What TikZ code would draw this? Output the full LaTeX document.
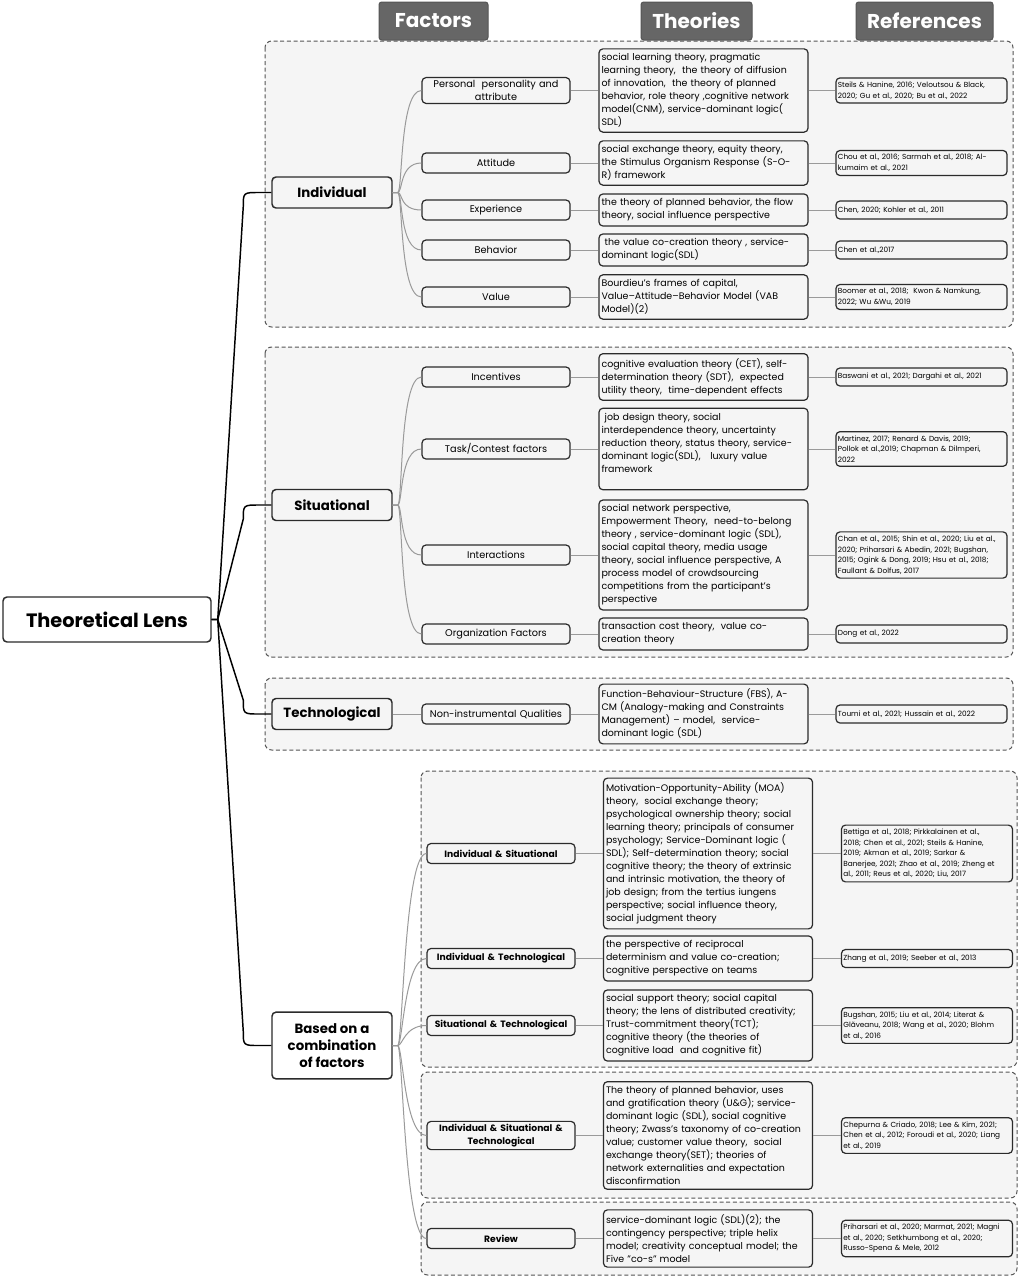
\documentclass[tikz,border=0pt]{standalone}
\usepackage{fontspec}
\setmainfont{Poppins}
\usetikzlibrary{calc}

\definecolor{grpfill}{HTML}{F5F5F5}
\definecolor{grpline}{HTML}{555555}
\definecolor{boxline}{HTML}{2B2B2B}
\definecolor{hdrfill}{HTML}{666666}
\definecolor{hdrline}{HTML}{555555}
\definecolor{branchline}{HTML}{9A9A9A}

\tikzset{every picture/.style={line width=0.75pt}}
\tikzset{
  hdrbox/.style={draw=hdrline, fill=hdrfill, rounded corners=2pt, text=white, minimum height=28.5pt, inner sep=0pt, font=\fontsize{15pt}{18pt}\bfseries\selectfont},
  rootbox/.style={draw=boxline, fill=white, line width=1.1pt, rounded corners=3pt, minimum width=156pt, minimum height=33.75pt, font=\fontsize{14.5pt}{17pt}\bfseries\selectfont},
  lvlbox/.style={draw=boxline, fill=grpfill, line width=1.1pt, rounded corners=3pt, minimum width=90pt, minimum height=23.25pt, align=center, font=\fontsize{10pt}{12.75pt}\bfseries\selectfont},
  facbox/.style={draw=boxline, fill=grpfill, line width=0.9pt, rounded corners=3pt, text width=107pt, inner xsep=2pt, inner ysep=2pt, minimum height=15pt, align=center, font=\fontsize{7.3pt}{9.75pt}\selectfont},
  facbold/.style={facbox, font=\fontsize{6.9pt}{9.75pt}\bfseries\selectfont},
  thbox/.style={draw=boxline, fill=grpfill, line width=0.9pt, rounded corners=3pt, text width=153pt, inner xsep=1.9pt, inner ysep=3.5pt, align=left, font=\fontsize{7.1pt}{9.75pt}\selectfont, execute at begin node={\hyphenpenalty=10000}},
  refbox/.style={draw=boxline, fill=grpfill, line width=0.9pt, rounded corners=3pt, text width=125.5pt, inner xsep=1.4pt, inner ysep=3pt, minimum height=13.5pt, align=left, font=\fontsize{5.5pt}{7.9pt}\selectfont, execute at begin node={\hyphenpenalty=10000}},
  grpbox/.style={draw=grpline, fill=grpfill, dash pattern=on 3pt off 2pt, rounded corners=5pt, line width=0.75pt},
  branch/.style={draw=branchline, line width=0.75pt},
  trunk/.style={draw=black, line width=1.1pt},
}

\begin{document}
\begin{tikzpicture}[x=0.75pt,y=0.75pt,yscale=-1,xscale=1]
	\useasboundingbox (0,0) rectangle (1021,1278);
	\fill[white] (0,0) rectangle (1021,1278);

	%Shape: group boxes
	\draw[grpbox] (265,41) rectangle (1013,327);
	\draw[grpbox] (265,347) rectangle (1013,657);
	\draw[grpbox] (265,678) rectangle (1013,750);
	\draw[grpbox] (421,771) rectangle (1017,1067);
	\draw[grpbox] (421,1072) rectangle (1017,1198);
	\draw[grpbox] (421,1202) rectangle (1017,1275);

	% Header Nodes
	\node[hdrbox, minimum width=81.75pt] (hfac) at (433.5,21) {Factors};
	\node[hdrbox, minimum width=83.25pt] (hthe) at (696.5,21) {Theories};
	\node[hdrbox, minimum width=102.75pt] (href) at (924.5,21) {References};

	% Root and first level
	\node[rootbox] (root) at (107,619.5) {Theoretical Lens};
	\node[lvlbox] (ind) at (332,192.5) {Individual};
	\node[lvlbox] (sit) at (332,505) {Situational};
	\node[lvlbox] (tec) at (332,714) {Technological};
	\node[lvlbox, fill=white, minimum height=50pt] (bas) at (332,1045.5) {Based on a\\combination\\of factors};

	% Individual
	\node[facbox] (fper) at (496,90.5) {Personal\ \ personality and\\attribute};
	\node[facbox] (fatt) at (496,163) {Attitude};
	\node[facbox] (fexp) at (496,210) {Experience};
	\node[facbox] (fbeh) at (496,250) {Behavior};
	\node[facbox] (fval) at (496,297) {Value};

	\node[thbox] (tper) at (703.5,90.5) {social learning theory, pragmatic\\learning theory,\ \ the theory of diffusion\\of innovation,\ \ the theory of planned\\behavior, role theory ,cognitive network\\model(CNM), service-dominant logic(\\SDL)};
	\node[thbox] (tatt) at (703.5,163) {social exchange theory, equity theory,\\the Stimulus Organism Response (S-O-\\R) framework};
	\node[thbox] (texp) at (703.5,210) {the theory of planned behavior, the flow\\theory, social influence perspective};
	\node[thbox] (tbeh) at (703.5,250) {\ the value co-creation theory , service-\\dominant logic(SDL)};
	\node[thbox] (tval) at (703.5,297) {Bourdieu’s frames of capital,\\Value–Attitude–Behavior Model (VAB\\Model)(2)};

	\node[refbox] (rper) at (921.5,90.5) {Steils \& Hanine, 2016; Veloutsou \& Black,\\2020; Gu et al., 2020; Bu et al., 2022};
	\node[refbox] (ratt) at (921.5,163) {Chou et al., 2016; Sarmah et al., 2018; Al-\\kumaim et al., 2021};
	\node[refbox] (rexp) at (921.5,210) {Chen, 2020; Kohler et al., 2011};
	\node[refbox] (rbeh) at (921.5,250) {Chen et al.,2017};
	\node[refbox] (rval) at (921.5,297) {Boomer et al., 2018;\ \ Kwon \& Namkung,\\2022; Wu \&Wu, 2019};

	% Situational
	\node[facbox] (finc) at (496,377) {Incentives};
	\node[facbox] (ftas) at (496,449) {Task/Contest factors};
	\node[facbox] (fint) at (496,555) {Interactions};
	\node[facbox] (forg) at (496,634) {Organization Factors};

	\node[thbox] (tinc) at (703.5,377) {cognitive evaluation theory (CET), self-\\determination theory (SDT),\ \ expected\\utility theory,\ \ time-dependent effects};
	\node[thbox] (ttas) at (703.5,449) {\ job design theory, social\\interdependence theory, uncertainty\\reduction theory, status theory, service-\\dominant logic(SDL),\ \ \ luxury value\\framework\\\mbox{}};
	\node[thbox] (tint) at (703.5,555) {social network perspective,\\Empowerment Theory,\ \ need-to-belong\\theory , service-dominant logic (SDL),\\social capital theory, media usage\\theory, social influence perspective, A\\process model of crowdsourcing\\competitions from the participant’s\\perspective};
	\node[thbox] (torg) at (703.5,634) {transaction cost theory,\ \ value co-\\creation theory};

	\node[refbox] (rinc) at (921.5,377) {Baswani et al., 2021; Dargahi et al., 2021};
	\node[refbox] (rtas) at (921.5,449) {Martinez, 2017; Renard \& Davis, 2019;\\Pollok et al.,2019; Chapman \& Dilmperi,\\2022};
	\node[refbox] (rint) at (921.5,555) {Chan et al., 2015; Shin et al., 2020; Liu et al.,\\2020; Priharsari \& Abedin, 2021; Bugshan,\\2015; Ogink \& Dong, 2019; Hsu et al., 2018;\\Faullant \& Dolfus, 2017};
	\node[refbox] (rorg) at (921.5,634) {Dong et al., 2022};

	% Technological
	\node[facbox] (fnon) at (496,714) {Non-instrumental Qualities};
	\node[thbox] (tnon) at (703.5,714) {Function-Behaviour-Structure (FBS), A-\\CM (Analogy-making and Constraints\\Management) – model,\ \ service-\\dominant logic (SDL)};
	\node[refbox] (rnon) at (921.5,714) {Toumi et al., 2021; Hussain et al., 2022};

	% Combination of factors
	\node[facbold] (fis) at (501,853.5) {Individual \& Situational};
	\node[facbold] (fit) at (501,958.5) {Individual \& Technological};
	\node[facbold] (fst) at (501,1025.5) {Situational \& Technological};
	\node[facbold] (fist) at (501,1135.5) {Individual \& Situational \&\\Technological};
	\node[facbold] (frev) at (501,1238.5) {Review};

	\node[thbox] (tis) at (708,853.5) {Motivation-Opportunity-Ability (MOA)\\theory,\ \ social exchange theory;\\psychological ownership theory; social\\learning theory; principals of consumer\\psychology; Service-Dominant logic (\\SDL); Self-determination theory; social\\cognitive theory; the theory of extrinsic\\and intrinsic motivation, the theory of\\job design; from the tertius iungens\\perspective; social influence theory,\\social judgment theory};
	\node[thbox] (tit) at (708,958.5) {the perspective of reciprocal\\determinism and value co-creation;\\cognitive perspective on teams};
	\node[thbox] (tst) at (708,1025.5) {social support theory; social capital\\theory; the lens of distributed creativity;\\Trust-commitment theory(TCT);\\cognitive theory (the theories of\\cognitive load\ \ and cognitive fit)};
	\node[thbox] (tist) at (708,1135.5) {The theory of planned behavior, uses\\and gratification theory (U\&G); service-\\dominant logic (SDL), social cognitive\\theory; Zwass’s taxonomy of co-creation\\value; customer value theory,\ \ social\\exchange theory(SET); theories of\\network externalities and expectation\\disconfirmation};
	\node[thbox] (trev) at (708,1238.5) {service-dominant logic (SDL)(2); the\\contingency perspective; triple helix\\model; creativity conceptual model; the\\Five "co-s" model};

	\node[refbox] (ris) at (927,853.5) {Bettiga et al., 2018; Pirkkalainen et al.,\\2018; Chen et al., 2021; Steils \& Hanine,\\2019; Akman et al., 2019; Sarkar \&\\Banerjee, 2021; Zhao et al., 2019; Zheng et\\al., 2011; Reus et al., 2020; Liu, 2017};
	\node[refbox] (rit) at (927,958.5) {Zhang et al., 2019; Seeber et al., 2013};
	\node[refbox] (rst) at (927,1025.5) {Bugshan, 2015; Liu et al., 2014; Literat \&\\Glăveanu, 2018; Wang et al., 2020; Blohm\\et al., 2016};
	\node[refbox] (rist) at (927,1135.5) {Chepurna \& Criado, 2018; Lee \& Kim, 2021;\\Chen et al., 2012; Foroudi et al., 2020; Liang\\et al., 2019};
	\node[refbox] (rrev) at (927,1238.5) {Priharsari et al., 2020; Marmat, 2021; Magni\\et al., 2020; Setkhumbong et al., 2020;\\Russo-Spena \& Mele, 2012};

	%Curve Lines: root to first level
	\foreach \l/\s in {ind/1,sit/1,tec/-1,bas/-1}
		\draw[trunk] (root.east) -- ++(6,0) -- ($(\l.west)+(-28,14*\s)$) .. controls ($(\l.west)+(-28,0)$) .. ($(\l.west)+(-12,0)$) -- (\l.west);

	%Curve Lines: first level to factors
	\foreach \f in {fper,fatt,fexp,fbeh,fval}
		\draw[branch] (ind.east) -- ++(5,0) .. controls +(5,0) and +(-22,0) .. (\f.west);
	\foreach \f in {finc,ftas,fint,forg}
		\draw[branch] (sit.east) -- ++(5,0) .. controls +(5,0) and +(-22,0) .. (\f.west);
	\draw[branch] (tec.east) -- (fnon.west);
	\foreach \f in {fis,fit,fst,fist,frev}
		\draw[branch] (bas.east) -- ++(5,0) .. controls +(5,0) and +(-22,0) .. (\f.west);

	%Straight Lines: factors to theories to references
	\foreach \n in {per,att,exp,beh,val,inc,tas,int,org,non,is,it,st,ist,rev}{
		\draw[branch] (f\n.east) -- (t\n.west);
		\draw[branch] (t\n.east) -- (r\n.west);
	}

\end{tikzpicture}
\end{document}
